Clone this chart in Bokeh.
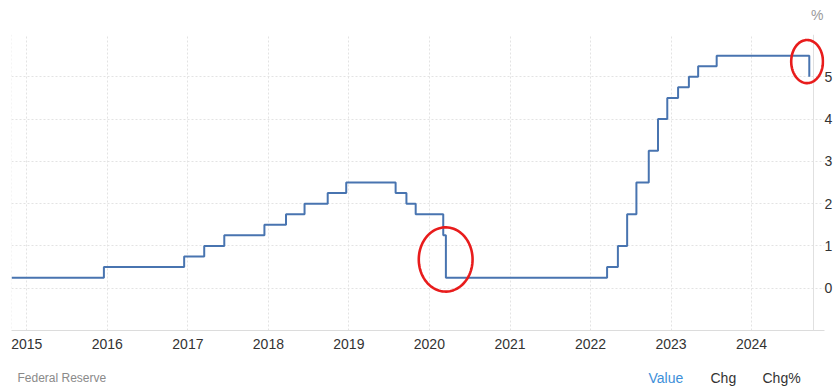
import numpy as np
import pandas as pd
from bokeh.plotting import figure
from bokeh.layouts import column
from bokeh.models import (FixedTicker, DatetimeTickFormatter, Range1d, Span,
                          PolyAnnotation, ColumnDataSource)
from bokeh.core.properties import value
from bokeh.embed import file_html
from bokeh.resources import INLINE

# ---- data: Fed funds target rate (upper bound), % ----
change_dates = ["2014-10-24", "2015-12-17", "2016-12-15", "2017-03-16", "2017-06-15",
                "2017-12-14", "2018-03-22", "2018-06-14", "2018-09-27", "2018-12-20",
                "2019-08-01", "2019-09-19", "2019-10-31", "2020-03-04", "2020-03-16",
                "2022-03-17", "2022-05-05", "2022-06-16", "2022-07-28", "2022-09-22",
                "2022-11-03", "2022-12-15", "2023-02-02", "2023-03-23", "2023-05-04",
                "2023-07-27", "2024-09-19"]
rates = [0.25, 0.5, 0.75, 1.0, 1.25, 1.5, 1.75, 2.0, 2.25, 2.5,
         2.25, 2.0, 1.75, 1.25, 0.25, 0.5, 1.0, 1.75, 2.5, 3.25,
         4.0, 4.5, 4.75, 5.0, 5.25, 5.5, 5.0]
year_labels = [2015, 2016, 2017, 2018, 2019, 2020, 2021, 2022, 2023, 2024]
y_ticks = [0, 1, 2, 3, 4, 5, 6]
x_start, x_border, x_end = "2014-10-24", "2024-10-08", "2024-11-27"
y_start, y_end = -1, 6
# highlighted regions (annotation ellipses): centre date, centre value, half-width days, half-height
circle_dates = ["2020-03-15", "2024-09-09"]
circle_vals = [0.68, 5.36]
circle_rx_days = [122, 72]
circle_ry = [0.76, 0.51]
# header / footer texts
unit_text = "%"
footer_texts = ["Federal Reserve", "Value", "Chg", "Chg%"]

FONT = "Liberation Sans"
dates = pd.to_datetime(change_dates)


def strip(height):
    s = figure(width=837, height=height, output_backend="svg", toolbar_location=None,
               x_range=Range1d(11, 824), y_range=Range1d(height, 0),
               min_border_left=11, min_border_right=13,
               min_border_top=0, min_border_bottom=0)
    s.axis.visible = False
    s.grid.visible = False
    s.outline_line_color = None
    s.background_fill_color = "white"
    s.border_fill_color = "white"
    return s


# header strip with unit label
h = strip(34)
h.text(x=[823], y=[14], text=[unit_text], text_color="#9a9a9a", text_font_size="14px",
       text_font=value(FONT), text_align="right", text_baseline="middle")

# main chart
p = figure(width=837, height=321, x_axis_type="datetime", y_axis_location="right",
           output_backend="svg", toolbar_location=None,
           x_range=Range1d(pd.Timestamp(x_start), pd.Timestamp(x_end)),
           y_range=Range1d(y_start, y_end),
           min_border_left=11, min_border_right=13, min_border_top=0, min_border_bottom=25)
p.background_fill_color = "white"
p.border_fill_color = "white"
p.outline_line_color = None

tick_ms = [pd.Timestamp(f"{y}-01-01").value / 1e6 for y in year_labels]
p.xaxis.ticker = FixedTicker(ticks=tick_ms)
p.xaxis.formatter = DatetimeTickFormatter(years="%Y", months="%Y", days="%Y", hours="%Y",
                                          minutes="%Y", seconds="%Y", milliseconds="%Y",
                                          microseconds="%Y", hourmin="%Y", minsec="%Y")
p.xaxis.major_tick_line_color = None
p.xaxis.minor_tick_line_color = None
p.xaxis.axis_line_color = "#dcdcdc"
p.xaxis.major_label_text_font = FONT
p.xaxis.major_label_text_font_size = "14px"
p.xaxis.major_label_text_color = "#333333"
p.xaxis.major_label_standoff = 2
p.xgrid.ticker = FixedTicker(ticks=tick_ms)
p.xgrid.grid_line_color = "#e3e3e3"
p.xgrid.grid_line_dash = "2 2"

# y axis labels pulled back over the right margin so the plot frame keeps its width
p.yaxis.ticker = FixedTicker(ticks=y_ticks)
p.yaxis.major_label_overrides = {6: ""}
p.yaxis.major_tick_line_color = None
p.yaxis.minor_tick_line_color = None
p.yaxis.axis_line_color = None
p.yaxis.major_label_text_font = FONT
p.yaxis.major_label_text_font_size = "14px"
p.yaxis.major_label_text_color = "#333333"
p.yaxis.major_label_standoff = -6
p.ygrid.ticker = FixedTicker(ticks=y_ticks)
p.ygrid.grid_line_color = "#e3e3e3"
p.ygrid.grid_line_dash = "2 2"

p.add_layout(Span(location=pd.Timestamp(x_border).value / 1e6, dimension="height",
                  line_color="#e0e0e0", line_width=1))
p.add_layout(Span(location=pd.Timestamp(x_start).value / 1e6, dimension="height",
                  line_color="#ececec", line_width=1, line_dash="2 2"))

p.step(dates, rates, mode="after", line_color="#4874b0", line_width=2)

t = np.linspace(0, 2 * np.pi, 90)
for cd, cv, rx, ry in zip(circle_dates, circle_vals, circle_rx_days, circle_ry):
    c_ms = pd.Timestamp(cd).value / 1e6
    xs = list(c_ms + rx * 86400000.0 * np.cos(t))
    ys = list(cv + ry * np.sin(t))
    p.add_layout(PolyAnnotation(xs=xs, ys=ys, fill_alpha=0, line_color="#e81c1c",
                                line_alpha=1.0, line_width=2.6))

# footer strip
f = strip(34)
src = ColumnDataSource(dict(x=[17, 648, 710, 762], y=[22, 22, 22, 22], text=footer_texts,
                            color=["#8a8a8a", "#3d8fd9", "#333333", "#333333"],
                            size=["12px", "14px", "14px", "14px"]))
f.text(x="x", y="y", text="text", source=src, text_color="color", text_font_size="size",
       text_font=value(FONT), text_align="left", text_baseline="middle")

layout = column(h, p, f, spacing=0)
open("out.html", "w").write(file_html(layout, INLINE))
